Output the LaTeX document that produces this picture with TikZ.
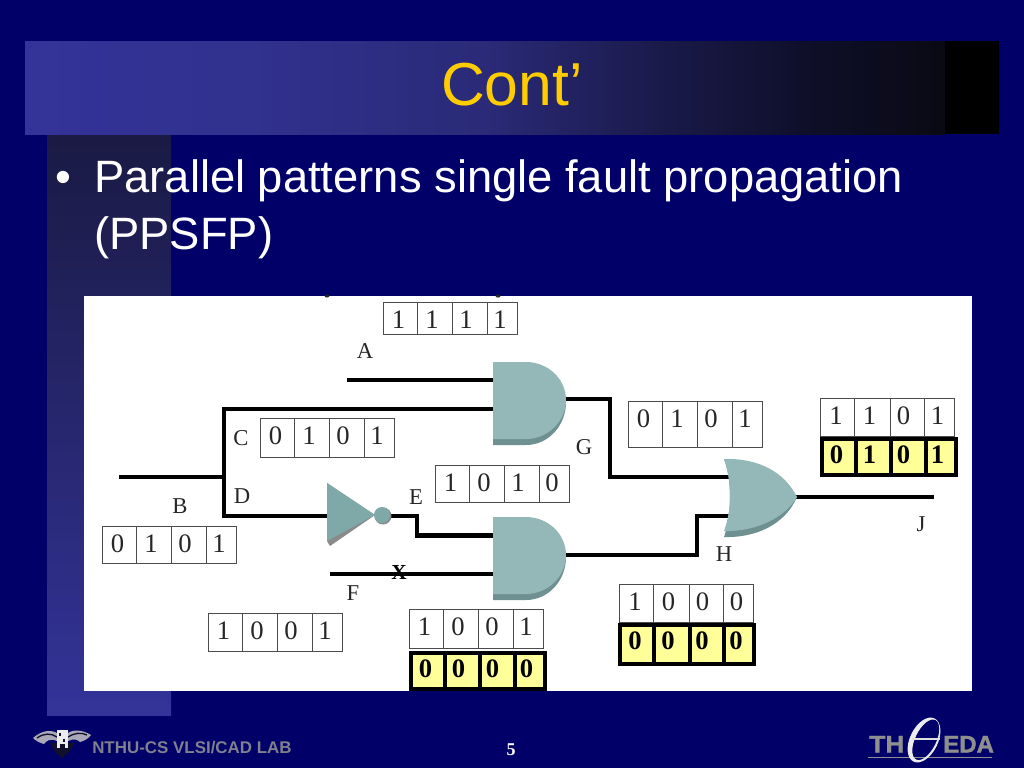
\documentclass[tikz,border=0pt]{standalone}
\usepackage{fontspec}
\setmainfont{Liberation Sans}
\newfontfamily\serifface{Liberation Serif}
\newfontfamily\heavyface[BoldFeatures={FakeBold=1.5}]{Liberation Sans}
\definecolor{bgnavy}{HTML}{000068}
\definecolor{titleyellow}{HTML}{FFCC00}
\definecolor{gatefill}{HTML}{94B8B8}
\definecolor{gateshade}{HTML}{6E9090}
\definecolor{invfill}{HTML}{7FA8A8}
\definecolor{invshade}{HTML}{8A8A8A}
\definecolor{cellyellow}{HTML}{FFFF99}
\definecolor{logogrey}{HTML}{80808F}
\definecolor{edagrey}{HTML}{8F8F8F}
\definecolor{stripTop}{HTML}{1A1A44}
\definecolor{stripBot}{HTML}{333399}
\definecolor{tbA}{HTML}{333399}
\definecolor{tbB}{HTML}{31318F}
\definecolor{tbC}{HTML}{2A2A78}
\definecolor{tbD}{HTML}{191948}
\definecolor{tbE}{HTML}{0E0E28}
\definecolor{tbF}{HTML}{0A0A14}
\definecolor{birddark}{HTML}{10102C}
\definecolor{birdlight}{HTML}{A8A8B8}
\pgfdeclarehorizontalshading{titlebarshade}{100bp}{color(0bp)=(tbA);
  color(25bp)=(tbA);color(37bp)=(tbB);color(50bp)=(tbC);
  color(60bp)=(tbD);color(68bp)=(tbE);color(75bp)=(tbF);color(100bp)=(tbF)}
\tikzset{
  x=0.75pt,y=-0.75pt,
  wire/.style={line width=3pt,black,line join=miter},
  signal/.style={font=\serifface\fontsize{17}{17}\selectfont,text=black!85,inner sep=0pt},
  bitdigit/.style={font=\serifface\fontsize{20}{20}\selectfont,text=black!85,inner sep=0pt},
  faultdigit/.style={font=\serifface\bfseries\fontsize{20}{20}\selectfont,text=black,inner sep=0pt},
  plaincell/.style={draw=black!70,line width=0.75pt,fill=white},
  faultcell/.style={draw=black,line width=3pt,fill=cellyellow},
  bodytext/.style={anchor=base west,inner sep=0pt,text=white,font=\fontsize{34}{34}\selectfont},
}
\newcommand{\plainrow}[8]{%
  \foreach \i/\l/\r/\c/\d in {0/0/34/15.5/#5,1/34/69.5/49/#6,2/69.5/104/83/#7,3/104/134/117/#8}{%
    \draw[plaincell] ({#2+\l},#3) rectangle ({#2+\r},#4);
    \node[bitdigit] (#1\i) at ({#2+\c},{#3+17.5}) {\d};
  }}
\newcommand{\faultrow}[8]{%
  \foreach \i/\l/\r/\c/\d in {0/0/34/15/#5,1/34/69.5/48/#6,2/69.5/104/82/#7,3/104/134/116/#8}{%
    \draw[faultcell] ({#2+\l},#3) rectangle ({#2+\r},#4);
    \node[faultdigit] (#1\i) at ({#2+\c},{#3+16.5}) {\d};
  }}
\newcommand{\andgate}[2]{%
  \fill[gateshade] (#1,#2+8) -- (#1+33,#2+8) .. controls (#1+55,#2+8) and (#1+73,#2+30) .. (#1+73,#2+40) .. controls (#1+73,#2+64) and (#1+55,#2+83) .. (#1+33,#2+83) -- (#1,#2+83) -- cycle;
  \fill[gatefill] (#1,#2) -- (#1+33,#2) .. controls (#1+55,#2) and (#1+73,#2+17) .. (#1+73,#2+38) .. controls (#1+73,#2+59) and (#1+55,#2+77) .. (#1+33,#2+77) -- (#1,#2+77) -- cycle;
}
\begin{document}
\begin{tikzpicture}
\useasboundingbox (0,0) rectangle (1024,768);
\fill[bgnavy] (0,0) rectangle (1024,768);
% side strip
\shade[top color=stripTop,bottom color=stripBot] (47,134) rectangle (171,715);
% title bar
\shade[shading=titlebarshade] (25,41) rectangle (945,134);
\fill[black] (945,41) rectangle (999,134);
\node[anchor=base,inner sep=0pt,text=titleyellow,font=\fontsize{45.5}{45.5}\selectfont] (title) at (512,105.5) {Cont’};
% body text
\node[bodytext] (bullet) at (55,192) {•};
\node[bodytext] (lineone) at (94,192) {Parallel patterns single fault propagation};
\node[bodytext] (linetwo) at (94,249) {(PPSFP)};
% panel
\fill[white] (84,296) rectangle (972,691);
\fill[black!85] (327,296) ellipse[x radius=2.5,y radius=1.5];
\fill[black!85] (498,296) ellipse[x radius=2.5,y radius=1.5];
% wire points
\coordinate (aS) at (347,380); \coordinate (aE) at (494,380);
\coordinate (bS) at (119,477); \coordinate (fork) at (224,477);
\coordinate (cE) at (494,409); \coordinate (cK) at (224,409);
\coordinate (dK) at (224,516); \coordinate (dE) at (328,516);
\coordinate (eS) at (390,516); \coordinate (eK) at (417,516); \coordinate (eL) at (417,535.5); \coordinate (eE) at (494,535.5);
\coordinate (fS) at (330,574); \coordinate (fE) at (494,574);
\coordinate (gS) at (565,399); \coordinate (gK) at (610,399); \coordinate (gL) at (610,477); \coordinate (gE) at (730,477);
\coordinate (hS) at (565,555); \coordinate (hK) at (697,555); \coordinate (hL) at (697,516); \coordinate (hE) at (730,516);
\coordinate (jS) at (796,497); \coordinate (jE) at (934,497);
% wires
\draw[wire] (aS) -- (aE);
\draw[wire] (bS) -- (fork);
\draw[wire] (cE) -- (cK) -- (dK) -- (dE);
\draw[wire,line width=3.3pt] (eS) -- (eK) -- (eL) -- (eE);
\draw[wire] (fS) -- (fE);
\draw[wire] (gS) -- (gK) -- (gL) -- (gE);
\draw[wire] (hS) -- (hK) -- (hL) -- (hE);
\draw[wire] (jS) -- (jE);
% gates
\andgate{493}{362}
\andgate{493}{517}
\fill[gateshade] (724,459) .. controls (732,480) and (732,515) .. (724,537) .. controls (755,538) and (785,525) .. (797,497) -- cycle;
\fill[gatefill] (724,459) .. controls (760,458) and (785,473) .. (797,497) .. controls (785,518) and (755,532) .. (724,531) .. controls (732,510) and (732,480) .. (724,459) -- cycle;
% inverter
\fill[invshade] (327,483) -- (375,515) -- (330,546) -- (327,541) -- cycle;
\fill[invfill] (327,483) -- (375,515) -- (327,541) -- cycle;
\fill[invshade] (383,516) circle[radius=8.5];
\fill[invfill] (382,515) circle[radius=8];
% bit rows
\plainrow{ra}{383}{302}{334}{1}{1}{1}{1}
\plainrow{rc}{260}{418}{457}{0}{1}{0}{1}
\plainrow{rb}{102}{526}{563}{0}{1}{0}{1}
\plainrow{re}{435}{465}{502}{1}{0}{1}{0}
\plainrow{rf}{208}{613}{651}{1}{0}{0}{1}
\plainrow{rg}{628}{401}{447}{0}{1}{0}{1}
\plainrow{rj}{820.5}{398}{436}{1}{1}{0}{1}
\faultrow{sj}{821.5}{438.5}{474.5}{0}{1}{0}{1}
\plainrow{rh}{619.5}{584}{622}{1}{0}{0}{0}
\faultrow{sh}{620}{624.5}{664}{0}{0}{0}{0}
\plainrow{rx}{409}{609}{648}{1}{0}{0}{1}
\faultrow{sx}{410.5}{652.5}{689}{0}{0}{0}{0}
% signal labels
\node[signal] (la) at (365,351) {A};
\node[signal] (lb) at (180,506) {B};
\node[signal] (lc) at (241,438) {C};
\node[signal] (ld) at (242,496) {D};
\node[signal] (le) at (416,497) {E};
\node[signal] (lf) at (353,593) {F};
\node[signal] (lg) at (584,447) {G};
\node[signal] (lh) at (724,554) {H};
\node[signal] (lj) at (921,524) {J};
\node[signal,font=\serifface\bfseries\fontsize{16}{16}\selectfont,text=black] (lx) at (399,573) {X};
% footer
\node[anchor=base west,inner sep=0pt,text=logogrey,font=\bfseries\fontsize{12.7}{12.7}\selectfont] (lab) at (92,753.5) {NTHU-CS VLSI/CAD LAB};
\node[inner sep=0pt,text=white,font=\serifface\bfseries\fontsize{13.5}{13.5}\selectfont] (pageno) at (511,750) {5};
% bird logo
\fill[birddark] (50,743) -- (75,743) -- (69,752) -- (62,758) -- (55,752) -- cycle;
\fill[birdlight] (33,738) .. controls (41,731) and (50,729) .. (57,733) -- (57,741) .. controls (50,738) and (46,741) .. (44,744) .. controls (40,743) and (36,741) .. (33,738) -- cycle;
\fill[birdlight] (91,735) .. controls (83,730) and (74,729) .. (68,733) -- (68,741) .. controls (74,738) and (78,740) .. (80,742) .. controls (84,741) and (88,739) .. (91,735) -- cycle;
\draw[birddark,line width=1pt] (37,738) .. controls (44,733) and (51,733) .. (57,737);
\draw[birddark,line width=1pt] (87,735) .. controls (81,732) and (74,733) .. (68,737);
\fill[white!85!logogrey] (57,730) rectangle (68,748);
\fill[birddark] (59,733) rectangle (61,736);
\fill[birddark] (63,739) rectangle (65,742);
\fill[birddark] (60,744) rectangle (65,748);
% theda logo
\draw[edagrey,line width=0.75pt] (868,757) -- (992,757);
\node[anchor=base west,inner sep=0pt,xscale=1.1,text=edagrey,font=\heavyface\bfseries\fontsize{18}{18}\selectfont] (th) at (869,752.5) {TH};
\node[anchor=base west,inner sep=0pt,text=edagrey,font=\heavyface\bfseries\fontsize{18}{18}\selectfont] (eda) at (943,752.5) {EDA};
\fill[white!85!gray,even odd rule,rotate around={-26:(924,740)}] (924,740) ellipse[x radius=14,y radius=24] (925.5,739) ellipse[x radius=10.5,y radius=22];
\draw[white!75!gray,line width=1.2pt] (912,739) -- (940,739);
\end{tikzpicture}
\end{document}
